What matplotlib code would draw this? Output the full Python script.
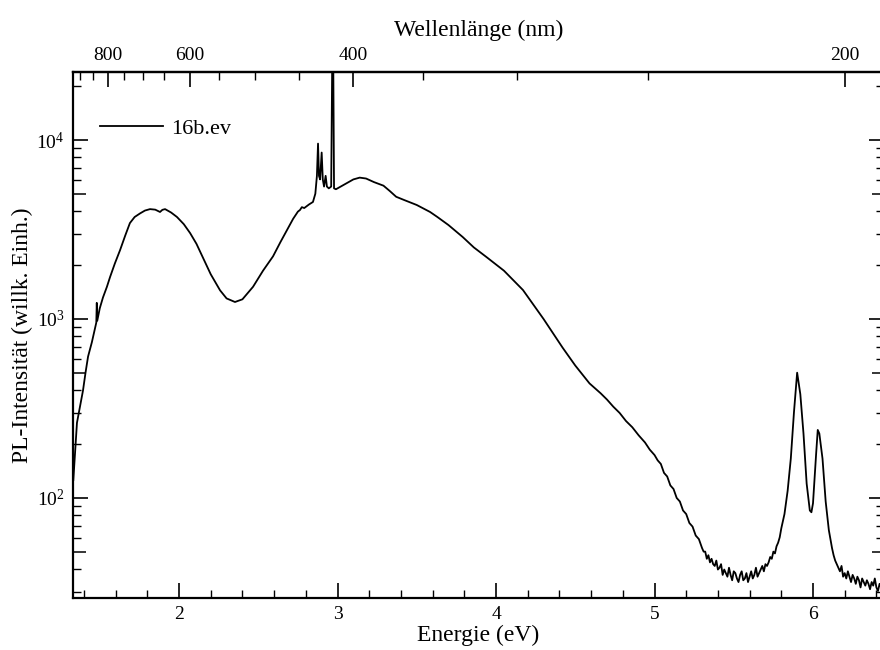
import numpy as np
import matplotlib
matplotlib.use("Agg")
import matplotlib.pyplot as plt
from matplotlib.ticker import FixedLocator, LogLocator, MultipleLocator, NullFormatter, LogFormatterSciNotation

plt.rcParams['font.family'] = ['Liberation Serif', 'DejaVu Serif']
plt.rcParams['mathtext.fontset'] = 'custom'
plt.rcParams['mathtext.rm'] = 'Liberation Serif'
plt.rcParams['mathtext.it'] = 'Liberation Serif:italic'

# ---- data ----
energy_ev = [
    1.333, 1.345, 1.356, 1.375, 1.394, 1.41, 1.426, 1.45, 1.47, 1.478, 1.481, 1.484,
    1.50, 1.52, 1.545, 1.565, 1.595, 1.628, 1.66, 1.69, 1.72, 1.754, 1.785, 1.817,
    1.85, 1.88, 1.895, 1.912, 1.95, 1.987, 2.03, 2.07, 2.11, 2.15, 2.20, 2.259,
    2.30, 2.353, 2.40, 2.467, 2.53, 2.593, 2.64, 2.681, 2.72, 2.75, 2.763, 2.775,
    2.79, 2.82, 2.845, 2.86, 2.87, 2.877, 2.883, 2.89, 2.90, 2.907, 2.915, 2.925,
    2.933, 2.945, 2.96, 2.968, 2.972, 2.978, 2.99, 3.05, 3.10, 3.14, 3.18, 3.23,
    3.29, 3.33, 3.37, 3.42, 3.50, 3.584, 3.63, 3.70, 3.79, 3.86, 3.94, 4.05,
    4.17, 4.215, 4.30, 4.42, 4.50, 4.59, 4.66, 4.70, 4.74, 4.78, 4.82, 4.86,
    4.90, 4.94, 4.97, 5.00, 5.02, 5.04, 5.06, 5.08, 5.10, 5.12, 5.14, 5.16,
    5.18, 5.20, 5.22, 5.24, 5.26, 5.28, 5.30, 5.31, 5.32, 5.33, 5.34, 5.35,
    5.36, 5.37, 5.38, 5.39, 5.40, 5.41, 5.42, 5.43, 5.44, 5.45, 5.46, 5.47,
    5.48, 5.49, 5.50, 5.51, 5.52, 5.53, 5.54, 5.55, 5.56, 5.57, 5.58, 5.59,
    5.60, 5.61, 5.62, 5.63, 5.64, 5.65, 5.66, 5.67, 5.68, 5.69, 5.70, 5.71,
    5.72, 5.73, 5.74, 5.75, 5.76, 5.77, 5.78, 5.79, 5.80, 5.82, 5.84, 5.86,
    5.88, 5.90, 5.92, 5.94, 5.96, 5.98, 5.99, 6.00, 6.02, 6.03, 6.04, 6.06,
    6.08, 6.10, 6.12, 6.13, 6.14, 6.15, 6.16, 6.17, 6.18, 6.19, 6.20, 6.21,
    6.22, 6.23, 6.24, 6.25, 6.26, 6.27, 6.28, 6.29, 6.30, 6.31, 6.32, 6.33,
    6.34, 6.35, 6.36, 6.37, 6.38, 6.39, 6.40, 6.41, 6.42, 6.43, 6.44, 6.45,
]
log10_intensity = [
    2.10, 2.27, 2.42, 2.51, 2.60, 2.70, 2.79, 2.87, 2.95, 2.98, 3.09, 2.99,
    3.06, 3.12, 3.18, 3.235, 3.31, 3.385, 3.465, 3.536, 3.57, 3.59, 3.606, 3.614,
    3.611, 3.598, 3.61, 3.614, 3.595, 3.57, 3.53, 3.48, 3.42, 3.345, 3.25, 3.16,
    3.115, 3.095, 3.11, 3.18, 3.27, 3.35, 3.43, 3.497, 3.56, 3.60, 3.609, 3.625,
    3.62, 3.64, 3.654, 3.70, 3.80, 3.98, 3.80, 3.78, 3.93, 3.78, 3.74, 3.80,
    3.74, 3.73, 3.74, 4.60, 4.60, 3.73, 3.725, 3.755, 3.78, 3.79, 3.785, 3.765,
    3.745, 3.715, 3.683, 3.665, 3.637, 3.598, 3.57, 3.525, 3.458, 3.40, 3.346, 3.27,
    3.162, 3.106, 3.00, 2.84, 2.74, 2.64, 2.585, 2.55, 2.51, 2.475, 2.43, 2.395,
    2.35, 2.31, 2.27, 2.24, 2.21, 2.19, 2.14, 2.12, 2.07, 2.05, 2.00, 1.98,
    1.93, 1.91, 1.86, 1.84, 1.79, 1.77, 1.72, 1.70, 1.70, 1.66, 1.68, 1.64,
    1.66, 1.63, 1.62, 1.65, 1.60, 1.61, 1.63, 1.57, 1.60, 1.58, 1.56, 1.61,
    1.57, 1.54, 1.59, 1.58, 1.55, 1.53, 1.57, 1.59, 1.54, 1.55, 1.58, 1.53,
    1.56, 1.59, 1.55, 1.57, 1.61, 1.56, 1.58, 1.60, 1.62, 1.59, 1.63, 1.62,
    1.64, 1.67, 1.66, 1.70, 1.69, 1.73, 1.75, 1.78, 1.83, 1.91, 2.04, 2.22,
    2.48, 2.70, 2.58, 2.36, 2.08, 1.93, 1.92, 1.97, 2.25, 2.38, 2.36, 2.22,
    1.98, 1.82, 1.72, 1.68, 1.65, 1.63, 1.61, 1.59, 1.62, 1.56, 1.58, 1.55,
    1.59, 1.56, 1.53, 1.57, 1.55, 1.52, 1.56, 1.54, 1.50, 1.55, 1.53, 1.51,
    1.54, 1.52, 1.49, 1.53, 1.51, 1.55, 1.50, 1.48, 1.52, 1.50, 1.47, 1.51,
]
series_label = "16b.ev"
energy_ticks = [2, 3, 4, 5, 6]
wavelength_ticks = [800, 600, 400, 200]
wavelength_minor = list(range(200, 951, 50))
xlim = (1.331, 6.448)
ylim = (27.6, 24000)

intensity = 10 ** np.array(log10_intensity)

fig = plt.figure(figsize=(8.8, 6.5), dpi=100)
ax = fig.add_axes([73 / 880, 52 / 650, (884 - 73) / 880, 526 / 650])
ax.plot(energy_ev, intensity, color='black', lw=1.3, label=series_label)
ax.set_yscale('log')
ax.set_xlim(*xlim)
ax.set_ylim(*ylim)

for s in ax.spines.values():
    s.set_linewidth(1.6)

ax.xaxis.set_major_locator(FixedLocator(energy_ticks))
ax.xaxis.set_minor_locator(MultipleLocator(0.2))
ax.yaxis.set_major_locator(LogLocator(base=10, numticks=10))
ax.yaxis.set_minor_locator(LogLocator(base=10, subs=[2, 3, 4, 6, 7, 8, 9], numticks=20))
ax.yaxis.set_minor_formatter(NullFormatter())
ax.yaxis.set_major_formatter(LogFormatterSciNotation())
ax.tick_params(axis='both', which='both', direction='in', labelsize=14)
ax.tick_params(axis='x', which='both', top=False, bottom=True)
ax.tick_params(axis='y', which='both', left=True, right=True)
ax.tick_params(which='major', length=11, width=1.2)
ax.tick_params(which='minor', length=5.5, width=1.0)
ax.tick_params(axis='x', which='major', pad=6)
ax.tick_params(axis='y', which='major', pad=6)

ax.set_xlabel('Energie (eV)', fontsize=17, labelpad=1)
ax.set_ylabel('PL-Intensität (willk. Einh.)', fontsize=17, labelpad=2.5)

# medium ticks at 5 x 10^n on both sides
for side in ('left', 'right'):
    sec = ax.secondary_yaxis(side)
    sec.set_yscale('log')
    sec.yaxis.set_major_locator(FixedLocator([50, 500, 5000]))
    sec.yaxis.set_minor_locator(FixedLocator([]))
    sec.yaxis.set_major_formatter(NullFormatter())
    sec.tick_params(direction='in', length=9, width=1.1)
    sec.spines[side].set_visible(False)

def e_to_nm(e):
    e = np.asarray(e, dtype=float)
    with np.errstate(divide='ignore', invalid='ignore'):
        return 1239.84 / e

top = ax.secondary_xaxis('top', functions=(e_to_nm, e_to_nm))
top.xaxis.set_major_locator(FixedLocator(wavelength_ticks))
top.xaxis.set_minor_locator(FixedLocator(wavelength_minor))
top.tick_params(which='both', direction='in', labelsize=14)
top.tick_params(which='major', length=11, width=1.2, pad=6)
top.tick_params(which='minor', length=5.5, width=1.0)
top.spines['top'].set_linewidth(1.6)
top.set_xlabel('Wellenlänge (nm)', fontsize=17, labelpad=8)

ax.legend(loc='upper left', bbox_to_anchor=(0.009, 0.95), frameon=False,
          fontsize=16, handlelength=2.8, handletextpad=0.4)

fig.savefig('out.png', dpi=100)
